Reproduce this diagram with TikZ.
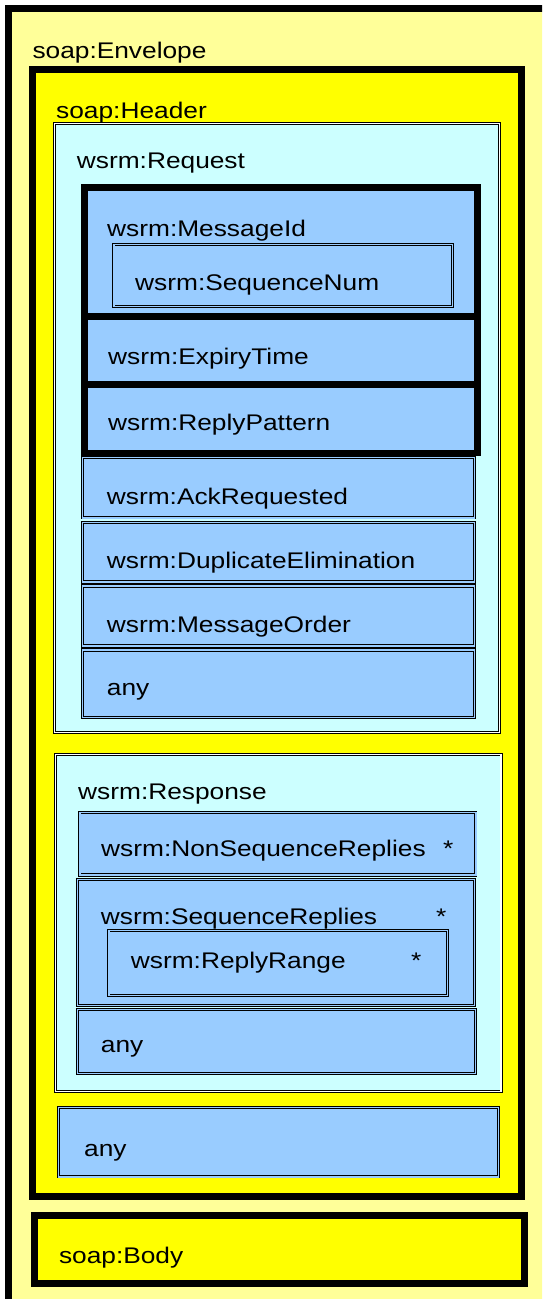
\documentclass[tikz,border=0pt]{standalone}
\usepackage{fontspec}
\setmainfont{Liberation Sans}
\usepackage{graphicx}
\definecolor{envY}{HTML}{FFFF99}
\definecolor{hdrY}{HTML}{FFFF00}
\definecolor{reqC}{HTML}{CCFFFF}
\definecolor{elB}{HTML}{99CCFF}
\newcommand{\lbl}[1]{\scalebox{1}[0.86]{#1}}
\tikzset{
  thickbox/.style={draw=black, line width=7pt, line join=miter},
  thickel/.style={draw=black, fill=elB, line width=6.7pt, line join=miter},
  dbl/.style={draw=black, line width=0.9pt, double=white, double distance=1.2pt},
  dblel/.style={draw=black, fill=elB, line width=0.9pt, double=elB, double distance=1.4pt},
  txt/.style={anchor=base west, inner sep=0pt, font=\fontsize{26.3}{30}\selectfont},
}
\begin{document}
\begin{tikzpicture}[x=1pt, y=-1pt]
\useasboundingbox (0,0) rectangle (542,1299);
\clip (0,0) rectangle (542,1299);
% envelope
\path[thickbox, fill=envY] (8.5,8.5) rectangle (580,1330);
\node[txt] (env) at (32.3,58.3) {\lbl{soap:Envelope}};
% header
\path[thickbox, fill=hdrY] (32.5,69.5) rectangle (521.4,1196);
\node[txt] (hdr) at (56,118.3) {\lbl{soap:Header}};
% request
\path[dbl, fill=reqC] (54.8,123.8) rectangle (499.5,732.8);
\node[txt] (req) at (76.7,168.3) {\lbl{wsrm:Request}};
\path[thickel] (84.3,187.3) rectangle (477.3,316.7);
\node[txt] (mid) at (107,236) {\lbl{wsrm:MessageId}};
\path[dblel] (113.8,244.2) rectangle (452.2,306.5);
\node[txt] (seq) at (135,290) {\lbl{wsrm:SequenceNum}};
\path[thickel] (84.3,316.7) rectangle (477.3,384.2);
\node[txt] (exp) at (108,364.3) {\lbl{wsrm:ExpiryTime}};
\path[thickel] (84.3,384.2) rectangle (477.3,453);
\node[txt] (rp) at (108,430) {\lbl{wsrm:ReplyPattern}};
\path[dblel] (82.2,457.5) rectangle (474.5,517.8);
\node[txt] (ack) at (106.7,504) {\lbl{wsrm:AckRequested}};
\path[dblel] (82.2,522.2) rectangle (474.5,582);
\node[txt] (dup) at (106.7,568) {\lbl{wsrm:DuplicateElimination}};
\path[dblel] (82.2,586) rectangle (474.5,646);
\node[txt] (mo) at (106.7,632) {\lbl{wsrm:MessageOrder}};
\path[dblel] (82.2,650) rectangle (474.5,717.2);
\node[txt] (rany) at (106.7,695) {\lbl{any}};
% response
\path[dbl, fill=reqC] (55.5,754.2) rectangle (501,1091.8);
\node[txt] (resp) at (78,799) {\lbl{wsrm:Response}};
\path[dblel] (79.8,812.2) rectangle (475.8,875);
\node[txt] (nsr) at (101,856) {\lbl{wsrm:NonSequenceReplies}};
\node[txt] (nsrs) at (443,856) {\lbl{*}};
\path[dblel] (77.5,879.5) rectangle (474.5,1005.5);
\node[txt] (sr) at (100.7,924.3) {\lbl{wsrm:SequenceReplies}};
\node[txt] (srs) at (436,924.3) {\lbl{*}};
\path[dblel] (108.8,930.5) rectangle (447.2,995.5);
\node[txt] (rr) at (130.7,968.3) {\lbl{wsrm:ReplyRange}};
\node[txt] (rrs) at (411,968.3) {\lbl{*}};
\path[dblel] (77.5,1009.5) rectangle (475.2,1073.5);
\node[txt] (sany) at (100.7,1052.7) {\lbl{any}};
% header any
\path[dblel] (58.5,1107.5) rectangle (498.5,1176.8);
\node[txt] (hany) at (84,1156) {\lbl{any}};
% body
\path[thickbox, fill=hdrY] (34,1215.7) rectangle (524.3,1283.3);
\node[txt] (body) at (58.8,1263.3) {\lbl{soap:Body}};
\end{tikzpicture}
\end{document}
